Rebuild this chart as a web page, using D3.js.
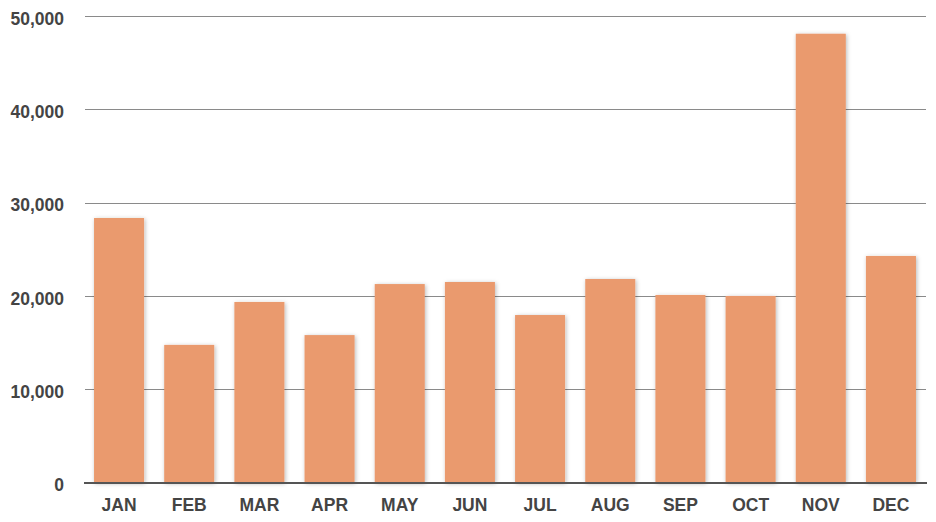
<!DOCTYPE html>
<html><head><meta charset="utf-8">
<script src="https://cdn.jsdelivr.net/npm/d3@7"></script>
<style>
body{margin:0;background:#fff;}
text{font-family:"Liberation Sans",Arial,Helvetica,sans-serif;font-weight:bold;fill:#444;}
</style></head>
<body><svg id="c" width="936" height="522"></svg>
<script>
const months = ["JAN","FEB","MAR","APR","MAY","JUN","JUL","AUG","SEP","OCT","NOV","DEC"];
const sales = [28350,14750,19350,15800,21270,21490,17950,21810,20100,19990,48100,24280];
const yTicks = [0,10000,20000,30000,40000,50000];

const svg = d3.select("#c");
const defs = svg.append("defs");
const f = defs.append("filter").attr("id","sh").attr("x","-20%").attr("y","-5%").attr("width","140%").attr("height","110%");
f.append("feDropShadow").attr("dx",1).attr("dy",1).attr("stdDeviation",2).attr("flood-color","#000").attr("flood-opacity",0.28);

const x = d3.scaleBand().domain(months).range([84,926]).paddingInner(0.287).paddingOuter(0.143);
const y = d3.scaleLinear().domain([0,50000]).range([482.5,16]);

// gridlines
svg.append("g").selectAll("line").data(yTicks.filter(d=>d>0)).join("line")
  .attr("x1",85).attr("x2",926)
  .attr("y1",d=>Math.round(y(d))+0.5).attr("y2",d=>Math.round(y(d))+0.5)
  .attr("stroke","#8a8a8a").attr("stroke-width",1);

// y labels
const fmt = d3.format(",");
svg.append("g").selectAll("text").data(yTicks).join("text")
  .attr("x",64).attr("y",d=>y(d)+8.7)
  .attr("text-anchor","end").attr("font-size",17.5).text(d=>fmt(d));

// bars
svg.append("g").selectAll("rect").data(sales).join("rect")
  .attr("x",(d,i)=>x(months[i])).attr("width",x.bandwidth())
  .attr("y",d=>y(d)).attr("height",d=>y(0)-y(d))
  .attr("fill","#EA9A6E").attr("filter","url(#sh)");

// baseline
svg.append("line").attr("x1",84).attr("x2",927).attr("y1",y(0)+0.5).attr("y2",y(0)+0.5)
  .attr("stroke","#555").attr("stroke-width",2);

// x labels
svg.append("g").selectAll("text").data(months).join("text")
  .attr("x",d=>x(d)+x.bandwidth()/2).attr("y",510.5)
  .attr("text-anchor","middle").attr("font-size",17.5).text(d=>d);
</script></body></html>
